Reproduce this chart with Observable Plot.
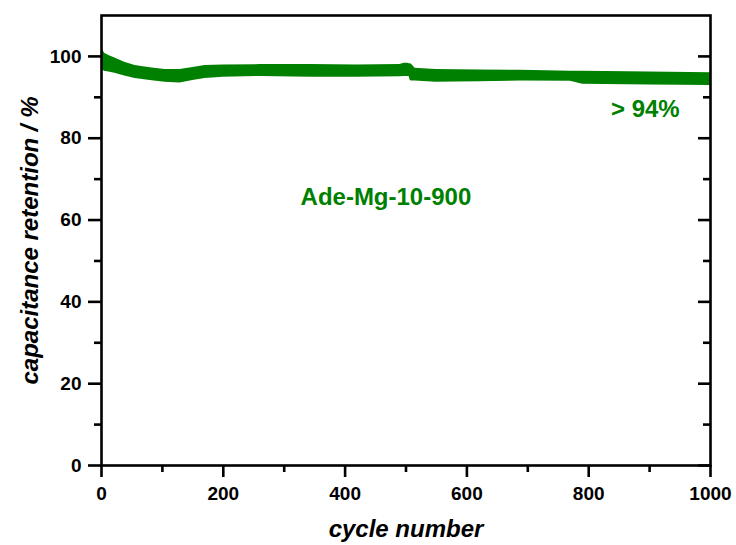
<!DOCTYPE html>
<html><head><meta charset="utf-8">
<script src="https://cdn.jsdelivr.net/npm/d3@7"></script>
<script src="https://cdn.jsdelivr.net/npm/@observablehq/plot@0.6"></script>
<style>body{margin:0;background:#fff;}</style>
</head><body><div id="chart"></div>
<script>
// cycle numbers and the upper / lower edges of the retention band (%)
const cycles = [0, 2, 5, 12, 22, 38, 55, 80, 104, 129, 150, 170, 200, 261, 343, 420, 490, 497, 503, 505, 507, 509, 515, 549, 620, 688, 770, 790, 900, 1000];
const upper  = [102.5, 101.6, 100.8, 100.2, 99.6, 98.6, 97.8, 97.2, 96.8, 96.8, 97.3, 97.8, 97.9, 98.0, 98.0, 97.9, 98.0, 98.3, 98.3, 98.2, 98.2, 98.1, 97.1, 96.8, 96.7, 96.6, 96.4, 96.4, 96.2, 96.0];
const lower  = [96.7, 96.6, 96.4, 96.2, 95.9, 95.2, 94.6, 94.1, 93.7, 93.5, 94.1, 94.6, 94.9, 95.1, 94.9, 94.9, 95.0, 95.1, 95.1, 95.1, 94.1, 94.0, 94.0, 93.7, 93.8, 94.0, 93.9, 93.2, 93.0, 92.9];

const xMajor = [0, 200, 400, 600, 800, 1000];
const xMinor = [100, 300, 500, 700, 900];
const yMajor = [0, 20, 40, 60, 80, 100];
const yMinor = [10, 30, 50, 70, 90];

const annotations = [
  {x: 467, y: 65.6, text: "Ade-Mg-10-900"},
  {x: 893, y: 87.0, text: "> 94%"}
];
const xLabel = "cycle number";
const yLabel = "capacitance retention / %";

const data = cycles.map((c, i) => ({cycle: c, lo: lower[i], hi: upper[i]}));
const font = "'Liberation Sans', Arial, sans-serif";
const green = "#008000";
const sw = 2.6;

const chart = Plot.plot({
  width: 736, height: 545,
  marginLeft: 101, marginRight: 26, marginTop: 15, marginBottom: 80,
  style: {fontFamily: font, background: "white", color: "black"},
  x: {domain: [0, 1000]},
  y: {domain: [0, 110]},
  marks: [
    Plot.areaY(data, {x: "cycle", y1: "lo", y2: "hi", fill: green}),
    Plot.frame({stroke: "black", strokeWidth: sw}),
    Plot.axisX({ticks: xMajor, tickSize: 12, tickPadding: 9, tickFormat: d => String(d), fontSize: 19, fontWeight: "bold", strokeWidth: sw, label: null}),
    Plot.axisX({ticks: xMinor, tickSize: 7, tickFormat: () => "", strokeWidth: sw, label: null}),
    Plot.axisY({ticks: yMajor, tickSize: 13, tickPadding: 7, tickFormat: d => String(d), fontSize: 19, fontWeight: "bold", strokeWidth: sw, label: null}),
    Plot.axisY({ticks: yMinor, tickSize: 7, tickFormat: () => "", strokeWidth: sw, label: null}),
    Plot.tickY(yMajor, {y: d => d, insetLeft: 597, stroke: "black", strokeWidth: sw}),
    Plot.tickY(yMinor, {y: d => d, insetLeft: 602, stroke: "black", strokeWidth: sw}),
    Plot.text(annotations, {x: "x", y: "y", text: "text", fill: green, fontSize: 24, fontWeight: "bold"}),
    Plot.text([xLabel], {frameAnchor: "bottom", dy: 64, lineAnchor: "middle", textAnchor: "middle", fontSize: 24, fontWeight: "bold", fontStyle: "italic", fill: "black"}),
    Plot.text([yLabel], {frameAnchor: "left", dx: -71, rotate: -90, lineAnchor: "middle", textAnchor: "middle", fontSize: 24, fontWeight: "bold", fontStyle: "italic", fill: "black"})
  ]
});
document.getElementById("chart").appendChild(chart);
</script>
</body></html>
